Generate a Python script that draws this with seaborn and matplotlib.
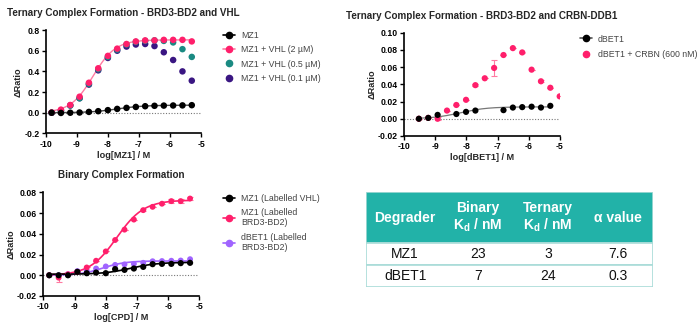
import numpy as np
import pandas as pd
import matplotlib
matplotlib.use("Agg")
import matplotlib.pyplot as plt
from matplotlib.lines import Line2D
from matplotlib.patches import Rectangle
import seaborn as sns

sns.set_theme(style="ticks")
plt.rcParams["font.family"] = ["Liberation Sans", "DejaVu Sans"]
plt.rcParams["mathtext.default"] = "regular"
plt.rcParams["axes.unicode_minus"] = False

# ---------------- data ----------------
# log10 molar concentrations, 2-fold dilution series
log_conc_mz1 = [-9.81, -9.51, -9.21, -8.91, -8.61, -8.31, -8.00, -7.70,
                -7.40, -7.10, -6.80, -6.50, -6.20, -5.90, -5.60, -5.30]
log_conc_dbet1 = [-9.52, -9.22, -8.92, -8.62, -8.32, -8.01, -7.71, -7.41,
                  -7.11, -6.81, -6.51, -6.21, -5.91, -5.61, -5.31, -5.01]

# Ternary complex, BRD3-BD2 + VHL
mz1_alone = [0.000, -0.002, 0.000, 0.002, 0.008, 0.015, 0.025, 0.037,
             0.047, 0.056, 0.063, 0.067, 0.069, 0.070, 0.071, 0.073]
mz1_vhl_2uM = [0.002, 0.030, 0.075, 0.155, 0.290, 0.430, 0.550, 0.620,
               0.665, 0.690, 0.700, 0.700, 0.705, 0.705, 0.705, 0.690]
mz1_vhl_05uM = [0.000, 0.020, 0.070, 0.140, 0.280, 0.420, 0.540, 0.610,
                0.660, 0.685, 0.695, 0.700, 0.695, 0.680, 0.615, 0.540]
mz1_vhl_01uM = [0.000, 0.020, 0.070, 0.140, 0.272, 0.410, 0.530, 0.600,
                0.640, 0.660, 0.665, 0.645, 0.585, 0.510, 0.400, 0.310]

# Ternary complex, BRD3-BD2 + CRBN-DDB1
dbet1_alone = [0.000, 0.001, 0.0045, np.nan, 0.0055, 0.008, 0.0095, np.nan,
               np.nan, 0.010, 0.013, 0.0135, 0.014, 0.013, 0.015, np.nan]
dbet1_crbn = [0.000, 0.001, 0.000, 0.0095, 0.016, 0.022, 0.039, 0.047,
              0.059, 0.074, 0.082, 0.077, 0.057, 0.0435, 0.036, 0.026]
dbet1_crbn_err = [0, 0, 0.002, 0, 0, 0, 0.001, 0,
                  0.0095, 0, 0, 0.001, 0, 0.001, 0, 0]

# Binary complex
mz1_vhl_lab = [0.000, 0.000, 0.000, 0.0033, 0.002, 0.0026, 0.002, 0.0059,
               0.0052, 0.0065, 0.0081, 0.0107, 0.011, 0.011, 0.0117, 0.012]
mz1_brd_lab = [0.000, -0.0023, 0.001, 0.0033, 0.0075, 0.014, 0.023, 0.034,
               0.044, 0.0537, 0.0628, 0.066, 0.069, 0.0715, 0.0715, 0.074]
mz1_brd_err = [0, 0.0045, 0, 0, 0, 0, 0, 0,
               0, 0, 0.001, 0, 0, 0.002, 0.002, 0.001]
dbet1_brd_lab = [0.000, 0.000, 0.001, 0.004, 0.0045, 0.0065, 0.0085, 0.010,
                 0.0105, 0.011, 0.012, 0.0135, 0.0137, 0.014, 0.0142, 0.0155]

# 4-parameter logistic fits: (bottom, top, logEC50, hill)
fit_mz1_alone = (0.0, 0.073, -7.7, 1.0)
fit_mz1_vhl_2uM = (0.0, 0.705, -8.48, 1.2)
fit_dbet1_alone = (0.0, 0.0138, -8.2, 1.0)
fit_mz1_vhl_lab = (0.001, 0.0125, -7.2, 1.0)
fit_mz1_brd_lab = (0.0, 0.0725, -7.65, 1.0)
fit_dbet1_brd_lab = (0.0, 0.0138, -8.1, 1.2)

# summary table
table_header = ["Degrader", "Binary\nK$_{d}$ / nM", "Ternary\nK$_{d}$ / nM", "α value"]
degraders = ["MZ1", "dBET1"]
binary_kd = ["23", "7"]
ternary_kd = ["3", "24"]
alpha_values = ["7.6", "0.3"]

# ---------------- styling ----------------
PINK = "#ff1f6b"
PINK_LINE = "#ff7aa2"
TEAL = "#1a8a82"
INDIGO = "#3a1682"
LILAC = "#a064ff"
BLACK = "#000000"
GREY_FIT = "#4a4a4a"
TXT = "#444444"
TABLE_TEAL = "#22b2a8"
TABLE_EDGE = "#a9dcd8"


def logistic(x, params):
    bottom, top, logec50, hill = params
    return bottom + (top - bottom) / (1.0 + 10 ** ((logec50 - x) * hill))


def fit_frame(xs, params, n=200):
    grid = np.linspace(min(xs), max(xs), n)
    return pd.DataFrame({"x": grid, "y": logistic(grid, params)})


def style_axes(ax, ylim, yticks, xlabel, title):
    ax.set_xlim(-10, -5)
    ax.set_ylim(*ylim)
    ax.set_xticks([-10, -9, -8, -7, -6, -5])
    ax.set_yticks(yticks)
    sns.despine(ax=ax)
    for s in ("left", "bottom"):
        ax.spines[s].set_linewidth(1.2)
        ax.spines[s].set_color("black")
    ax.tick_params(axis="both", length=3, width=1.0, labelsize=6.2, pad=1.5,
                   colors="black")
    for lab in ax.get_xticklabels() + ax.get_yticklabels():
        lab.set_fontweight("bold")
    ax.axhline(0, color="#777777", ls=(0, (1, 1.5)), lw=0.8, zorder=0)
    ax.set_xlabel(xlabel, fontsize=6.6, fontweight="bold", labelpad=1.5)
    ax.set_ylabel("ΔRatio", fontsize=6.6, fontweight="bold", labelpad=1)
    ax.set_title(title, fontsize=7.1, fontweight="bold", pad=10)


def scatter(ax, xs, ys, color, size=22, z=3):
    df = pd.DataFrame({"x": xs, "y": ys}).dropna()
    sns.scatterplot(data=df, x="x", y="y", ax=ax, color=color, s=size,
                    edgecolor="none", legend=False, zorder=z)


def fitline(ax, xs, params, color, lw=1.0, z=2):
    sns.lineplot(data=fit_frame(xs, params), x="x", y="y", ax=ax,
                 color=color, lw=lw, legend=False, zorder=z)


def line_handle(color, lcolor=None, ms=4.5):
    return Line2D([], [], color=lcolor or color, marker="o", markersize=ms,
                  markerfacecolor=color, markeredgecolor=color, lw=1.2)


def dot_handle(color, ms=4.5):
    return Line2D([], [], color=color, marker="o", markersize=ms, lw=0,
                  markeredgecolor=color)


legend_kw = dict(loc="upper left", frameon=False, fontsize=6.3, labelcolor=TXT,
                 handlelength=1.4, handletextpad=0.7, borderpad=0,
                 borderaxespad=0)

fig = plt.figure(figsize=(7.0, 3.23), dpi=100)

# ---- panel 1: ternary BRD3-BD2 / VHL ----
ax1 = fig.add_axes([0.0653, 0.587, 0.222, 0.320])
fitline(ax1, log_conc_mz1, fit_mz1_vhl_2uM, PINK_LINE)
fitline(ax1, log_conc_mz1, fit_mz1_alone, GREY_FIT)
scatter(ax1, log_conc_mz1, mz1_vhl_01uM, INDIGO)
scatter(ax1, log_conc_mz1, mz1_vhl_05uM, TEAL)
scatter(ax1, log_conc_mz1, mz1_vhl_2uM, PINK)
scatter(ax1, log_conc_mz1, mz1_alone, BLACK, z=4)
style_axes(ax1, (-0.2, 0.8), [-0.2, 0.0, 0.2, 0.4, 0.6, 0.8],
           "log[MZ1] / M", "Ternary Complex Formation - BRD3-BD2 and VHL")
ax1.yaxis.set_major_formatter(matplotlib.ticker.FormatStrFormatter("%.1f"))
fig.legend([line_handle(BLACK), line_handle(PINK, PINK_LINE),
            dot_handle(TEAL), dot_handle(INDIGO)],
           ["MZ1", "MZ1 + VHL (2 µM)", "MZ1 + VHL (0.5 µM)", "MZ1 + VHL (0.1 µM)"],
           bbox_to_anchor=(0.318, 0.905), labelspacing=0.62, **legend_kw)

# ---- panel 2: ternary BRD3-BD2 / CRBN-DDB1 ----
ax2 = fig.add_axes([0.577, 0.579, 0.223, 0.320])
ax2.errorbar(log_conc_dbet1, dbet1_crbn, yerr=dbet1_crbn_err, fmt="none",
             ecolor=PINK_LINE, elinewidth=0.8, capsize=2, capthick=0.8, zorder=2)
fitline(ax2, log_conc_dbet1[:-1], fit_dbet1_alone, "#777777", lw=0.9)
scatter(ax2, log_conc_dbet1, dbet1_crbn, PINK, size=20)
scatter(ax2, log_conc_dbet1, dbet1_alone, BLACK, size=20, z=4)
style_axes(ax2, (-0.02, 0.10), [-0.02, 0.0, 0.02, 0.04, 0.06, 0.08, 0.10],
           "log[dBET1] / M", "Ternary Complex Formation - BRD3-BD2 and CRBN-DDB1")
ax2.yaxis.set_major_formatter(matplotlib.ticker.FormatStrFormatter("%.2f"))
fig.legend([line_handle(BLACK, "#555555"), dot_handle(PINK)],
           ["dBET1", "dBET1 + CRBN (600 nM)"],
           bbox_to_anchor=(0.828, 0.893), labelspacing=0.75, **legend_kw)

# ---- panel 3: binary complex ----
ax3 = fig.add_axes([0.0619, 0.0836, 0.223, 0.321])
ax3.errorbar(log_conc_mz1, mz1_brd_lab, yerr=mz1_brd_err, fmt="none",
             ecolor=PINK_LINE, elinewidth=0.8, capsize=2, capthick=0.8, zorder=2)
fitline(ax3, log_conc_mz1, fit_dbet1_brd_lab, LILAC, lw=1.2)
fitline(ax3, log_conc_mz1, fit_mz1_brd_lab, PINK, lw=1.2)
fitline(ax3, log_conc_mz1, fit_mz1_vhl_lab, BLACK, lw=1.2)
scatter(ax3, log_conc_mz1, dbet1_brd_lab, LILAC, size=18)
scatter(ax3, log_conc_mz1, mz1_brd_lab, PINK, size=18)
scatter(ax3, log_conc_mz1, mz1_vhl_lab, BLACK, size=20, z=4)
style_axes(ax3, (-0.02, 0.08), [-0.02, 0.0, 0.02, 0.04, 0.06, 0.08],
           "log[CPD] / M", "Binary Complex Formation")
ax3.yaxis.set_major_formatter(matplotlib.ticker.FormatStrFormatter("%.2f"))
fig.legend([line_handle(BLACK), line_handle(PINK), line_handle(LILAC)],
           ["MZ1 (Labelled VHL)", "MZ1 (Labelled\nBRD3-BD2)", "dBET1 (Labelled\nBRD3-BD2)"],
           bbox_to_anchor=(0.318, 0.400), labelspacing=0.6, **legend_kw)

# ---- summary table ----
axt = fig.add_axes([0.523, 0.1115, 0.410, 0.294])
axt.set_xlim(0, 1)
axt.set_ylim(0, 1)
axt.axis("off")
header_bottom = 0.463
row_h = header_bottom / 2
axt.add_patch(Rectangle((0, header_bottom), 1, 1 - header_bottom,
                        facecolor=TABLE_TEAL, edgecolor=TABLE_EDGE, lw=1.2))
for i in range(2):
    axt.add_patch(Rectangle((0, header_bottom - (i + 1) * row_h), 1, row_h,
                            facecolor="white", edgecolor=TABLE_EDGE, lw=1.2))
col_x = [0.136, 0.39, 0.634, 0.878]
for cx, txt in zip(col_x, table_header):
    axt.text(cx, (1 + header_bottom) / 2, txt, ha="center", va="center",
             color="white", fontsize=10, fontweight="bold", linespacing=1.15)
rows = list(zip(degraders, binary_kd, ternary_kd, alpha_values))
for r, vals in enumerate(rows):
    cy = header_bottom - (r + 0.5) * row_h
    for cx, v in zip(col_x, vals):
        axt.text(cx, cy, v, ha="center", va="center", color="#111111", fontsize=10)

fig.savefig("out.png", dpi=100)
